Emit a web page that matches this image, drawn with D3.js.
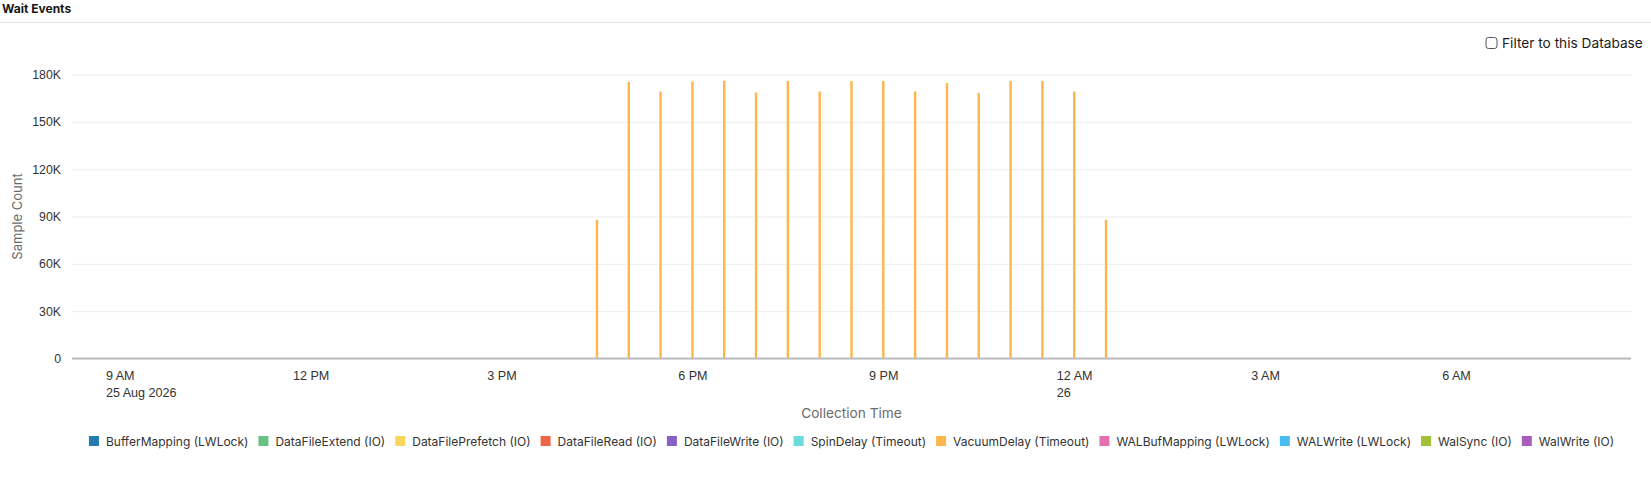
<!DOCTYPE html>
<html>
<head>
<meta charset="utf-8">
<title>Wait Events</title>
<script src="https://cdn.jsdelivr.net/npm/d3@7"></script>
<style>
	html, body { margin: 0; padding: 0; background: #fff; }
	svg { display: block; font-family: Inter, "Noto Sans", "Liberation Sans", sans-serif; }
</style>
</head>
<body>
<svg id="chart" width="1651" height="501"></svg>
<script>
(function () {
	'use strict';

	// --- Data ---
	var sampleTimes = [
		'2026-08-25T16:30', '2026-08-25T17:00', '2026-08-25T17:30', '2026-08-25T18:00',
		'2026-08-25T18:30', '2026-08-25T19:00', '2026-08-25T19:30', '2026-08-25T20:00',
		'2026-08-25T20:30', '2026-08-25T21:00', '2026-08-25T21:30', '2026-08-25T22:00',
		'2026-08-25T22:30', '2026-08-25T23:00', '2026-08-25T23:30', '2026-08-26T00:00',
		'2026-08-26T00:30'
	];
	var vacuumDelay = [
		88000, 175300, 169200, 175600, 176000, 168600, 175900, 169200,
		175900, 175900, 169200, 174600, 168300, 175900, 175900, 169200,
		88000
	];
	var seriesNames = [
		'BufferMapping (LWLock)', 'DataFileExtend (IO)', 'DataFilePrefetch (IO)',
		'DataFileRead (IO)', 'DataFileWrite (IO)', 'SpinDelay (Timeout)',
		'VacuumDelay (Timeout)', 'WALBufMapping (LWLock)', 'WALWrite (LWLock)',
		'WalSync (IO)', 'WalWrite (IO)'
	];
	var seriesColors = [
		'#237bb1', '#68c182', '#fad55c', '#ed6647', '#8561c8', '#6ddbdb',
		'#ffb54d', '#e371b2', '#47bdef', '#a2bf39', '#a75dba'
	];
	var yTicks = [0, 30000, 60000, 90000, 120000, 150000, 180000];
	var timeDomain = ['2026-08-25T08:15', '2026-08-26T08:45'];

	// --- Layout ---
	var W = 1651;
	var PLOT = { left: 72, right: 1631, top: 74.5, bottom: 358.5 };
	var BAR_W = 2.4;

	var parse = d3.timeParse('%Y-%m-%dT%H:%M');
	var svg = d3.select('#chart');

	// Header
	svg.append('text')
		.attr('x', 2).attr('y', 12.5)
		.attr('font-size', 12).attr('font-weight', 700).attr('fill', '#161616')
		.text('Wait Events');
	svg.append('line')
		.attr('x1', 0).attr('x2', W).attr('y1', 22.5).attr('y2', 22.5)
		.attr('stroke', '#e4e4e4').attr('stroke-width', 1);

	// Checkbox
	var cb = svg.append('g').attr('transform', 'translate(1486,37.5)');
	cb.append('rect')
		.attr('width', 11).attr('height', 11).attr('rx', 2.5)
		.attr('fill', '#fff').attr('stroke', '#555').attr('stroke-width', 1);
	cb.append('text')
		.attr('x', 16).attr('y', 10.3)
		.attr('font-size', 13.7).attr('fill', '#1d1d1d')
		.text('Filter to this Database');

	// Scales
	var x = d3.scaleTime()
		.domain(timeDomain.map(parse))
		.range([PLOT.left, PLOT.right]);
	var y = d3.scaleLinear()
		.domain([0, 180000])
		.range([PLOT.bottom, PLOT.top]);

	// Y grid + labels
	var yAxis = d3.axisLeft(y)
		.tickValues(yTicks)
		.tickSize(-(PLOT.right - PLOT.left))
		.tickPadding(11)
		.tickFormat(function (d) { return d === 0 ? '0' : (d / 1000) + 'K'; });
	var gy = svg.append('g')
		.attr('transform', 'translate(' + PLOT.left + ',0)')
		.call(yAxis);
	gy.select('.domain').remove();
	gy.selectAll('.tick line').attr('stroke', '#ececec').attr('stroke-width', 1);
	gy.selectAll('.tick text')
		.attr('font-size', 12.3).attr('fill', '#333').attr('font-family', null);

	// Bars
	var pts = sampleTimes.map(function (t, i) { return { t: parse(t), v: vacuumDelay[i] }; });
	svg.append('g').selectAll('rect')
		.data(pts)
		.enter()
		.append('rect')
		.attr('x', function (d) { return x(d.t) - BAR_W / 2; })
		.attr('y', function (d) { return y(d.v); })
		.attr('width', BAR_W)
		.attr('height', function (d) { return y(0) - y(d.v); })
		.attr('fill', seriesColors[6]);

	// X axis (baseline + two-line hour labels)
	var fmtHour = d3.timeFormat('%-I %p');
	var xAxis = d3.axisBottom(x)
		.ticks(d3.timeHour.every(3))
		.tickSize(0)
		.tickPadding(0)
		.tickFormat(fmtHour);
	var gx = svg.append('g')
		.attr('transform', 'translate(0,' + PLOT.bottom + ')')
		.call(xAxis);
	gx.select('.domain').remove();
	gx.selectAll('.tick text')
		.attr('font-size', 12.6).attr('fill', '#333').attr('font-family', null)
		.attr('y', 21).attr('dy', null);

	// second line: date on first tick, day on midnight tick; left-aligned with line 1
	gx.selectAll('.tick').each(function (d, i) {
		var sub = null;
		if (i === 0) sub = d3.timeFormat('%-d %b %Y')(d);
		else if (d.getHours() === 0) sub = d3.timeFormat('%-d')(d);
		if (!sub) return;
		var t = d3.select(this).select('text');
		var w = t.node().getComputedTextLength();
		d3.select(this).append('text')
			.attr('x', -w / 2).attr('y', 38)
			.attr('text-anchor', 'start')
			.attr('font-size', 12.6).attr('fill', '#333')
			.text(sub);
	});

	svg.append('line')
		.attr('x1', PLOT.left).attr('x2', PLOT.right)
		.attr('y1', PLOT.bottom).attr('y2', PLOT.bottom)
		.attr('stroke', '#bcbcbc').attr('stroke-width', 2);

	// Axis titles
	svg.append('text')
		.attr('x', (PLOT.left + PLOT.right) / 2).attr('y', 418)
		.attr('text-anchor', 'middle')
		.attr('font-size', 13.7).attr('fill', '#6b6b6b')
		.text('Collection Time');
	svg.append('text')
		.attr('transform', 'translate(22,' + ((PLOT.top + PLOT.bottom) / 2) + ') rotate(-90)')
		.attr('text-anchor', 'middle')
		.attr('font-size', 13).attr('fill', '#6b6b6b')
		.text('Sample Count');

	// Legend — measure each label, then center the row on the plot area
	var SW = 10, GAP_SW = 7, GAP_ITEM = 10, LEG_Y = 441;
	var legend = svg.append('g');
	var items = legend.selectAll('g')
		.data(seriesNames)
		.enter()
		.append('g');
	items.append('rect')
		.attr('y', LEG_Y - SW / 2).attr('width', SW).attr('height', SW)
		.attr('fill', function (d, i) { return seriesColors[i]; });
	items.append('text')
		.attr('x', SW + GAP_SW).attr('y', LEG_Y + 4.5)
		.attr('font-size', 12).attr('fill', '#333')
		.text(function (d) { return d; });

	var offsets = [], cursor = 0;
	items.each(function () {
		offsets.push(cursor);
		var tw = d3.select(this).select('text').node().getComputedTextLength();
		cursor += SW + GAP_SW + tw + GAP_ITEM;
	});
	var total = cursor - GAP_ITEM;
	var start = (PLOT.left + PLOT.right) / 2 - total / 2;
	items.attr('transform', function (d, i) { return 'translate(' + (start + offsets[i]) + ',0)'; });
})();
</script>
</body>
</html>
